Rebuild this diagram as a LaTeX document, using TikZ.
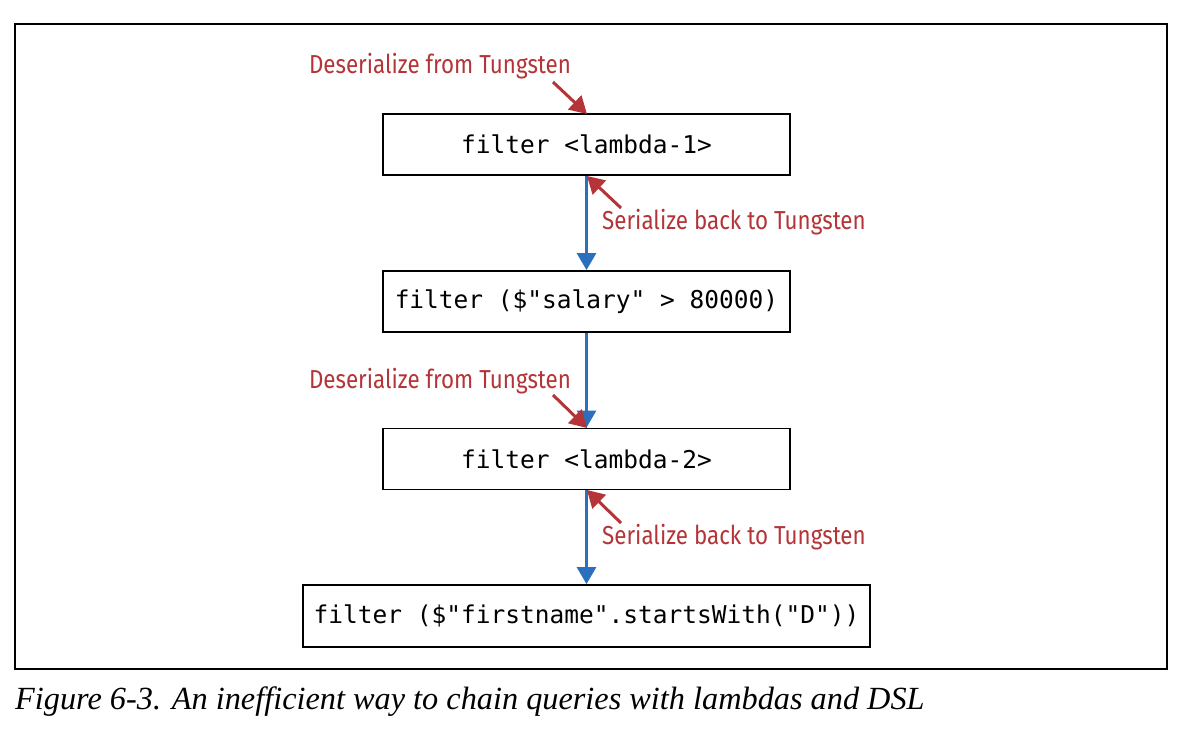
\documentclass[tikz,border=0pt]{standalone}
\usepackage{fontspec}
\usetikzlibrary{arrows.meta}
\newfontfamily\labfont[FakeStretch=0.86]{Fira Sans}
\newfontfamily\codefont{DejaVu Sans Mono}
\newfontfamily\capfont{Liberation Serif}
\definecolor{tred}{RGB}{180,52,56}
\definecolor{tblue}{RGB}{43,112,188}
\tikzset{
  opbox/.style={draw=black, line width=1.8pt, minimum width=407pt, minimum height=61pt, inner sep=0pt, font=\codefont\fontsize{24.5}{28}\selectfont},
  redlab/.style={text=tred, inner sep=0pt, font=\labfont\fontsize{26}{30}\selectfont},
  flow/.style={draw=tblue, line width=3pt, -{Triangle[length=17pt,width=19pt]}, shorten >=0pt},
  serarrow/.style={draw=tred, line width=3pt, -{Triangle[length=17pt,width=19pt]}},
}
\begin{document}
\begin{tikzpicture}[x=1pt,y=-1pt]
\useasboundingbox (0,0) rectangle (1184,730);
\fill[white] (0,0) rectangle (1184,730);
\draw[line width=1.2pt] (15,24) rectangle (1167,669);

\node[opbox] (b1) at (586.5,144.5) {filter <lambda-1>};
\node[opbox] (b2) at (586.5,301.5) {filter (\$"salary" > 80000)};
\node[opbox] (b3) at (586.5,459) {filter <lambda-2>};
\node[opbox, minimum width=567pt, minimum height=62pt] (b4) at (586.5,616) {filter (\$"firstname".startsWith("D"))};

\draw[flow] (b1.south) -- (b2.north);
\draw[flow] (b2.south) -- (b3.north);
\draw[flow] (b3.south) -- (b4.north);

\node[redlab] (d1) at (440,66) {Deserialize from Tungsten};
\node[redlab, anchor=west] (s1) at (602,222) {Serialize back to Tungsten};
\node[redlab] (d2) at (440,381) {Deserialize from Tungsten};
\node[redlab, anchor=west] (s2) at (602,537) {Serialize back to Tungsten};

\coordinate (d1t) at (553,82);
\coordinate (s1t) at (621,208);
\coordinate (d2t) at (553,395);
\coordinate (s2t) at (621,523);
\coordinate (d1h) at (587,114);
\coordinate (s1h) at (587,176);
\coordinate (d2h) at (587,428);
\coordinate (s2h) at (587,490);

\draw[serarrow] (d1t) -- (d1h);
\draw[serarrow] (s1t) -- (s1h);
\draw[serarrow] (d2t) -- (d2h);
\draw[serarrow] (s2t) -- (s2h);

\node[anchor=base west, inner sep=0pt, font=\capfont\itshape\fontsize{32.3}{36}\selectfont] (cap) at (15,709) {Figure 6-3. An inefficient way to chain queries with lambdas and DSL};
\end{tikzpicture}
\end{document}
